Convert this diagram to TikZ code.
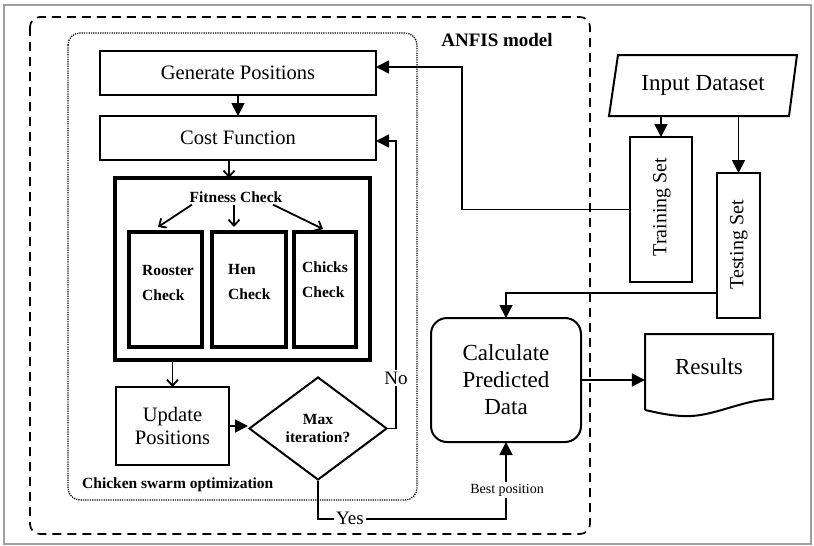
\documentclass[tikz,border=0pt]{standalone}
\usepackage{fontspec}
\setmainfont{Liberation Serif}
\usetikzlibrary{arrows.meta,shapes.geometric}
\begin{document}
\begin{tikzpicture}[x=1pt,y=-1pt,
  base/.style={draw, inner sep=0pt, outer sep=0pt, line width=2pt, align=center,
    font=\fontsize{20.5}{23}\selectfont},
  subbox/.style={draw, inner sep=0pt, outer sep=0pt, line width=3.5pt,
    minimum height=115pt},
  boldtext/.style={inner sep=0pt, align=left, font=\bfseries\fontsize{15.5}{25}\selectfont},
  bigarrow/.style={line width=1.8pt, -{Triangle[length=13pt,width=13pt]}},
  smallarrow/.style={line width=1.8pt, -{Straight Barb[length=6pt,width=11pt]}},
  gaplabel/.style={fill=white, inner sep=2pt, font=\fontsize{19}{22}\selectfont}]
\useasboundingbox (0,0) rectangle (814,546);
\draw[gray!75, line width=1.3pt] (4,5) rectangle (811,544);
% containers
\draw[dash pattern=on 9pt off 6pt, line width=1.7pt, rounded corners=10pt] (30,17) rectangle (590,534);
\draw[dash pattern=on 1.2pt off 1.1pt, line width=1.3pt, rounded corners=12pt] (68,33) rectangle (417,500);
\node[font=\bfseries\fontsize{19}{22}\selectfont, inner sep=0pt] (anf) at (497,40) {ANFIS model};
\node[anchor=west, inner sep=0pt, font=\bfseries\fontsize{15.5}{18}\selectfont] (cso) at (82,485) {Chicken swarm optimization};
% CSO boxes
\node[base, minimum width=276pt, minimum height=44pt] (gen) at (238,73) {Generate Positions};
\node[base, minimum width=276pt, minimum height=44pt] (cost) at (238,138) {Cost Function};
\node[base, line width=4.2pt, minimum width=255pt, minimum height=182pt] (fit) at (242.5,269) {};
\node[boldtext] (ft) at (236,197) {Fitness Check};
\node[subbox, minimum width=73pt] (roo) at (165.5,289.5) {};
\node[subbox, minimum width=74pt] (hen) at (249,289.5) {};
\node[subbox, minimum width=62pt] (chk) at (325,289.5) {};
\node[boldtext, anchor=west] (rooT) at (142,283) {Rooster\\Check};
\node[boldtext, anchor=west] (henT) at (228,281.5) {Hen\\Check};
\node[boldtext, anchor=west] (chkT) at (302,280) {Chicks\\Check};
\node[base, minimum width=113pt, minimum height=78pt] (upd) at (172.5,426) {Update\\Positions};
\node[draw, diamond, aspect=1.34, line width=2pt, inner sep=0pt, minimum width=138pt,
  minimum height=103pt, align=center, font=\bfseries\fontsize{15.5}{18}\selectfont] (dia) at (318,428.5) {Max\\iteration?};
% right side
\node[base, rounded corners=16pt, minimum width=150pt, minimum height=124pt,
  font=\fontsize{23}{27}\selectfont] (calc) at (506,380) {Calculate\\Predicted\\Data};
\node[inner sep=0pt, minimum width=128pt, minimum height=65pt, font=\fontsize{23}{27}\selectfont] (res) at (709,366.5) {Results};
\draw[line width=2pt] (645,410) -- (645,334) -- (773,334) -- (773,399)
  .. controls (740,400) and (712,418) .. (682,416)
  .. controls (665,415) and (655,412) .. (645,410);
\node[inner sep=0pt, minimum width=180pt, minimum height=61pt, font=\fontsize{23}{27}\selectfont] (inp) at (703,85.5) {Input Dataset};
\draw[line width=2pt] (618,55) -- (797,55) -- (789,116) -- (609,116) -- cycle;
\node[base, minimum width=62pt, minimum height=145pt] (trn) at (661,209.5) {};
\node[rotate=90, inner sep=0pt, font=\fontsize{20}{23}\selectfont] (trnT) at (662,207) {Training Set};
\node[base, minimum width=43pt, minimum height=145pt] (tst) at (738.5,245.5) {};
\node[rotate=90, inner sep=0pt, font=\fontsize{20}{23}\selectfont] (tstT) at (739,245) {Testing Set};
% connectors
\draw[bigarrow] (gen.south) -- (cost.north);
\draw[smallarrow] ([xshift=-9pt]cost.south) -- ([xshift=-9pt]cost.south |- fit.north);
\draw[smallarrow] ([xshift=-44pt,yshift=-2pt]ft.south) -- ([xshift=-7.5pt,yshift=5pt]roo.north);
\draw[smallarrow] ([xshift=-2pt,yshift=-2pt]ft.south) -- ([xshift=-2pt,yshift=5pt]hen.north -| ft.south);
\draw[smallarrow] ([xshift=37pt,yshift=-2pt]ft.south) -- ([xshift=-2pt,yshift=3pt]chk.north);
\draw[smallarrow] (upd.north |- fit.south) -- (upd.north);
\draw[bigarrow] (upd.east) -- (upd.east -| dia.west);
\draw[bigarrow] (dia.east) -- ++(8,0) |- ([yshift=-3pt]cost.east);
\node[gaplabel] (no) at (396,378) {No};
\draw[bigarrow] (dia.south) -- ++(0,38) -| (calc.south);
\node[gaplabel] (yes) at (350,518) {Yes};
\node[fill=white, inner sep=1.5pt, font=\fontsize{14}{16}\selectfont] (best) at (507,490) {Best position};
\draw[bigarrow] (trn.west) -- ++(-168,0) |- ([yshift=6pt]gen.east);
\draw[bigarrow] ([yshift=25pt]tst.south west) -| (calc.north);
\draw[bigarrow] (inp.south -| trn.north) -- (trn.north);
\draw[bigarrow] (inp.south -| tst.north) -- (tst.north);
\draw[bigarrow] (calc.east) -- (calc.east -| res.west);
\end{tikzpicture}
\end{document}
